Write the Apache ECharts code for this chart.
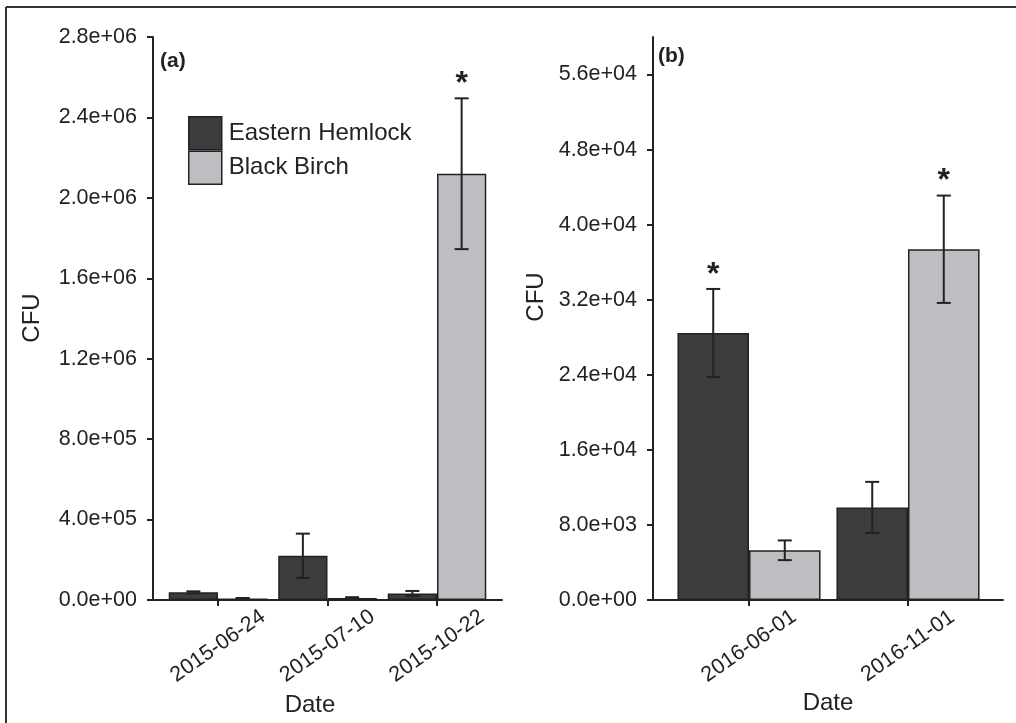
<!DOCTYPE html>
<html>
<head>
<meta charset="utf-8">
<script src="https://cdn.jsdelivr.net/npm/echarts@6/dist/echarts.min.js"></script>
<style>
html,body{margin:0;padding:0;background:#fff;}
#chart{width:1016px;height:723px;}
</style>
</head>
<body>
<div id="chart"></div>
<script>
// ---------- data ----------
const seriesNames = ['Eastern Hemlock', 'Black Birch'];

const datesA = ['2015-06-24', '2015-07-10', '2015-10-22'];
const hemlockA = [38000, 220000, 32000];
const hemlockA_se = [5000, 110000, 13000];
const hemlockA_sig = [0, 0, 0];
const birchA = [8000, 10000, 2120000];
const birchA_se = [2000, 4000, 375000];
const birchA_sig = [0, 0, 1];
const yTicksA = [0, 400000, 800000, 1200000, 1600000, 2000000, 2400000, 2800000];

const datesB = ['2016-06-01', '2016-11-01'];
const hemlockB = [28450, 9870];
const hemlockB_se = [4700, 2720];
const hemlockB_sig = [1, 0];
const birchB = [5300, 37380];
const birchB_se = [1050, 5720];
const birchB_sig = [0, 1];
const yTicksB = [0, 8000, 16000, 24000, 32000, 40000, 48000, 56000];
const yMaxB = 60000;

// ---------- styles ----------
const FONT = 'Liberation Sans, Arial, Helvetica, sans-serif';
const INK = '#222222';
const COL_H = '#3c3c3e';
const COL_B = '#bdbec1';
const TICK_FS = 21.5;

function sci(v) {
  return v.toExponential(1).replace(/e([+-])(\d)$/, 'e$10$2');
}

function errData(vals, se, sig, side) {
  return vals.map((v, i) => [i, v - se[i], v + se[i], sig[i], side]);
}

function errRender(params, api) {
  const cat = api.value(0);
  const lo = api.value(1), hi = api.value(2), sig = api.value(3), side = api.value(4);
  const band = api.size([1, 0])[0];
  const off = side * band * 0.225;
  const pLo = api.coord([cat, lo]);
  const pHi = api.coord([cat, hi]);
  const x = pLo[0] + off;
  const half = 7;
  const st = { stroke: INK, lineWidth: 2 };
  const children = [
    { type: 'line', shape: { x1: x, y1: pLo[1], x2: x, y2: pHi[1] }, style: st },
    { type: 'line', shape: { x1: x - half, y1: pLo[1], x2: x + half, y2: pLo[1] }, style: st },
    { type: 'line', shape: { x1: x - half, y1: pHi[1], x2: x + half, y2: pHi[1] }, style: st }
  ];
  if (sig) {
    children.push({
      type: 'text',
      style: { text: '*', x: x, y: pHi[1] - 14, align: 'center', verticalAlign: 'middle',
               font: 'bold 32px ' + FONT, fill: INK }
    });
  }
  return { type: 'group', children: children };
}

function frameX(gi) {
  return { gridIndex: gi, type: 'value', min: 0, max: 1,
    axisLine: { show: true, lineStyle: { color: INK, width: 2 } },
    axisTick: { show: false }, axisLabel: { show: false }, splitLine: { show: false } };
}
function catX(gi, cats) {
  return { gridIndex: gi, type: 'category', data: cats,
    axisLine: { show: false },
    axisTick: { show: true, alignWithLabel: true, length: 6, lineStyle: { color: INK, width: 2 } },
    axisLabel: { interval: 0, rotate: 35, align: 'center', verticalAlign: 'middle', margin: 46,
      fontFamily: FONT, fontSize: TICK_FS, color: INK },
    splitLine: { show: false } };
}
function hiddenY(gi, max) {
  return { gridIndex: gi, type: 'value', min: 0, max: max, show: false, splitLine: { show: false } };
}

const chart = echarts.init(document.getElementById('chart'), null, { renderer: 'canvas' });

const option = {
  backgroundColor: '#ffffff',
  animation: false,
  textStyle: { fontFamily: FONT },
  grid: [
    { left: 153, top: 37, width: 349, height: 563 },
    { left: 163.25, top: 37, width: 328.5, height: 563 },
    { left: 653, top: 37, width: 350, height: 563 },
    { left: 669.5, top: 37, width: 318, height: 563 }
  ],
  legend: {
    data: seriesNames,
    orient: 'vertical',
    left: 188, top: 116,
    padding: 0,
    itemWidth: 33, itemHeight: 33, itemGap: 0,
    icon: 'rect',
    itemStyle: { borderColor: INK, borderWidth: 1.5 },
    textStyle: { fontFamily: FONT, fontSize: 24, color: INK, padding: [0, 0, 0, 2] },
    selectedMode: false
  },
  xAxis: [frameX(0), catX(1, datesA), frameX(2), catX(3, datesB)],
  yAxis: [
    { gridIndex: 0, type: 'value', min: 0, max: yTicksA[yTicksA.length - 1], interval: yTicksA[1],
      axisLine: { show: true, lineStyle: { color: INK, width: 2 } },
      axisTick: { show: true, length: 6, lineStyle: { color: INK, width: 2 } },
      axisLabel: { formatter: sci, fontFamily: FONT, fontSize: TICK_FS, color: INK, margin: 16 },
      splitLine: { show: false } },
    hiddenY(1, yTicksA[yTicksA.length - 1]),
    { gridIndex: 2, type: 'value', min: 0, max: yMaxB,
      axisLine: { show: true, lineStyle: { color: INK, width: 2 } },
      axisTick: { show: true, length: 6, customValues: yTicksB, lineStyle: { color: INK, width: 2 } },
      axisLabel: { customValues: yTicksB, formatter: sci, fontFamily: FONT, fontSize: TICK_FS, color: INK, margin: 16 },
      splitLine: { show: false } },
    hiddenY(3, yMaxB)
  ],
  series: [
    { name: seriesNames[0], type: 'bar', xAxisIndex: 1, yAxisIndex: 1, data: hemlockA,
      barWidth: '45%', barGap: '0%', itemStyle: { color: COL_H, borderColor: INK, borderWidth: 1.5 } },
    { name: seriesNames[1], type: 'bar', xAxisIndex: 1, yAxisIndex: 1, data: birchA,
      barWidth: '45%', barGap: '0%', itemStyle: { color: COL_B, borderColor: INK, borderWidth: 1.5 } },
    { name: seriesNames[0], type: 'bar', xAxisIndex: 3, yAxisIndex: 3, data: hemlockB,
      barWidth: '45%', barGap: '0%', itemStyle: { color: COL_H, borderColor: INK, borderWidth: 1.5 } },
    { name: seriesNames[1], type: 'bar', xAxisIndex: 3, yAxisIndex: 3, data: birchB,
      barWidth: '45%', barGap: '0%', itemStyle: { color: COL_B, borderColor: INK, borderWidth: 1.5 } },
    { type: 'custom', xAxisIndex: 1, yAxisIndex: 1, z: 10, renderItem: errRender,
      data: errData(hemlockA, hemlockA_se, hemlockA_sig, -1) },
    { type: 'custom', xAxisIndex: 1, yAxisIndex: 1, z: 10, renderItem: errRender,
      data: errData(birchA, birchA_se, birchA_sig, 1) },
    { type: 'custom', xAxisIndex: 3, yAxisIndex: 3, z: 10, renderItem: errRender,
      data: errData(hemlockB, hemlockB_se, hemlockB_sig, -1) },
    { type: 'custom', xAxisIndex: 3, yAxisIndex: 3, z: 10, renderItem: errRender,
      data: errData(birchB, birchB_se, birchB_sig, 1) }
  ],
  graphic: [
    // outer frame (top and left edges)
    { type: 'line', shape: { x1: 6, y1: 7, x2: 1016, y2: 7 }, style: { stroke: '#333', lineWidth: 2 } },
    { type: 'line', shape: { x1: 6, y1: 7, x2: 6, y2: 723 }, style: { stroke: '#333', lineWidth: 2 } },
    // panel tags
    { type: 'text', left: 160, top: 51, style: { text: '(a)', font: 'bold 21px ' + FONT, fill: INK } },
    { type: 'text', left: 658, top: 46, style: { text: '(b)', font: 'bold 21px ' + FONT, fill: INK } },
    // axis titles
    { type: 'text', x: 32, y: 318, rotation: Math.PI / 2,
      style: { text: 'CFU', font: '24px ' + FONT, fill: INK, align: 'center', verticalAlign: 'middle' } },
    { type: 'text', x: 536, y: 297, rotation: Math.PI / 2,
      style: { text: 'CFU', font: '24px ' + FONT, fill: INK, align: 'center', verticalAlign: 'middle' } },
    { type: 'text', x: 310, y: 705,
      style: { text: 'Date', font: '24px ' + FONT, fill: INK, align: 'center', verticalAlign: 'middle' } },
    { type: 'text', x: 828, y: 703,
      style: { text: 'Date', font: '24px ' + FONT, fill: INK, align: 'center', verticalAlign: 'middle' } }
  ]
};

chart.setOption(option);
</script>
</body>
</html>
